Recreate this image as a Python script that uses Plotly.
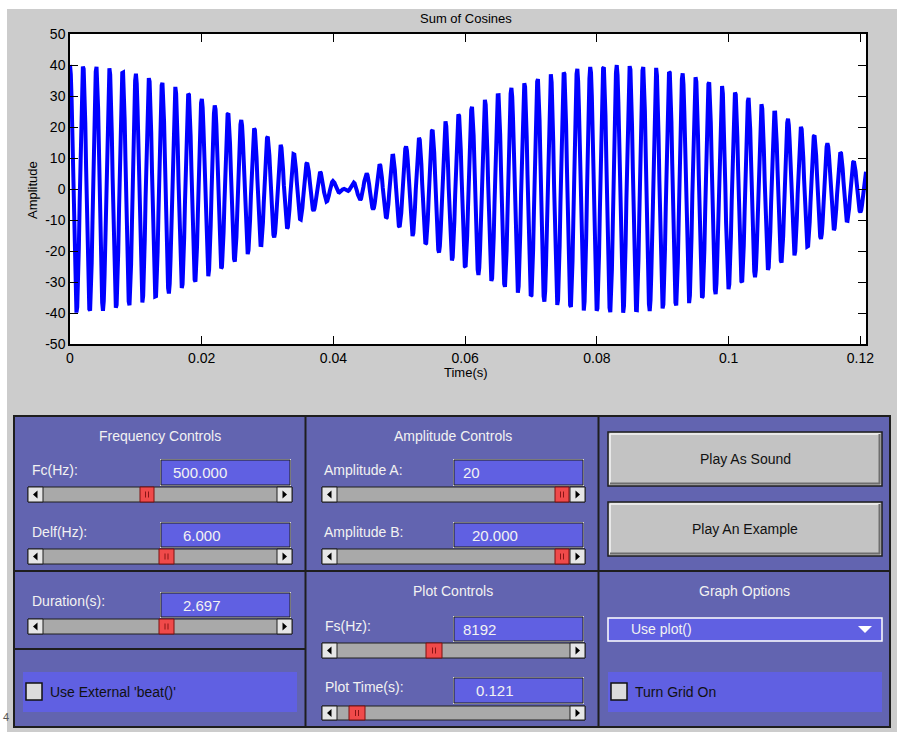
import numpy as np
import plotly.graph_objects as go

# ---- signal parameters (as entered in the control panel) ----
FC_HZ = 500.0        # carrier frequency
DELF_HZ = 6.0        # frequency offset
AMP_A = 20           # amplitude of first cosine
AMP_B = 20.0         # amplitude of second cosine
DURATION_S = 2.697   # sound duration
FS_HZ = 8192         # sampling rate
PLOT_TIME_S = 0.121  # span shown in the plot

# axis tick values / labels
Y_TICKS = [-50, -40, -30, -20, -10, 0, 10, 20, 30, 40, 50]
Y_TICK_TEXT = ["-50", "-40", "-30", "-20", "-10", "0", "10", "20", "30", "40", "50"]
X_TICKS = [0, 0.02, 0.04, 0.06, 0.08, 0.1, 0.12]
X_TICK_TEXT = ["0", "0.02", "0.04", "0.06", "0.08", "0.1", "0.12"]

# sampled sum of two cosines
n_samples = int(PLOT_TIME_S * FS_HZ)
t = np.arange(n_samples) / FS_HZ
signal = (AMP_A * np.cos(2 * np.pi * (FC_HZ - DELF_HZ) * t)
          + AMP_B * np.cos(2 * np.pi * (FC_HZ + DELF_HZ) * t))

W, H = 897, 732


def px(x):
    return x / W


def py(y):
    return 1 - y / H


shapes = []
annotations = []

PANEL = "#6264b0"
BOX = "#6060e2"
DARK = "#1e1e1e"
LIGHT_TXT = "#f2f2f2"
UI_FONT = "Liberation Sans"


def rect(x0, y0, x1, y1, fill, line=None, width=1):
    shapes.append(dict(type="rect", xref="paper", yref="paper",
                       x0=px(x0), x1=px(x1), y0=py(y1), y1=py(y0),
                       fillcolor=fill,
                       line=dict(color=line or fill, width=width if line else 0)))


def hline(x0, x1, y, color=DARK, width=2):
    shapes.append(dict(type="line", xref="paper", yref="paper",
                       x0=px(x0), x1=px(x1), y0=py(y), y1=py(y),
                       line=dict(color=color, width=width)))


def vline(x, y0, y1, color=DARK, width=2):
    shapes.append(dict(type="line", xref="paper", yref="paper",
                       x0=px(x), x1=px(x), y0=py(y0), y1=py(y1),
                       line=dict(color=color, width=width)))


def tri(points, color):
    path = "M " + " L ".join(f"{px(a):.5f},{py(b):.5f}" for a, b in points) + " Z"
    shapes.append(dict(type="path", xref="paper", yref="paper", path=path,
                       fillcolor=color, line=dict(color=color, width=0)))


def text(x, y, s, size=14, color=LIGHT_TXT, xanchor="left", family=UI_FONT):
    annotations.append(dict(x=px(x), y=py(y), xref="paper", yref="paper",
                            text=s, showarrow=False, xanchor=xanchor,
                            yanchor="middle",
                            font=dict(family=family, size=size, color=color)))


def edit_box(x0, y0, x1, y1, value, tx):
    rect(x0 - 1, y0 - 1, x1 + 1, y1 + 1, "#d6d6d6")
    rect(x0, y0, x1, y1, BOX, line=DARK, width=1)
    text(tx, (y0 + y1) / 2, value, size=15)


def slider(x0, x1, y0, y1, th0, th1):
    rect(x0, y0, x1, y1, "#a9a9a9", line=DARK, width=1)
    bw = 15
    rect(x0, y0, x0 + bw, y1, "#e6e6e6", line=DARK, width=1)
    rect(x1 - bw, y0, x1, y1, "#e6e6e6", line=DARK, width=1)
    cy = (y0 + y1) / 2
    cxl = x0 + bw / 2
    cxr = x1 - bw / 2
    tri([(cxl - 2.5, cy), (cxl + 2, cy - 4), (cxl + 2, cy + 4)], "#000000")
    tri([(cxr + 2.5, cy), (cxr - 2, cy - 4), (cxr - 2, cy + 4)], "#000000")
    rect(th0, y0, th1, y1, "#f04a4a", line="#7a1010", width=1)
    mx = (th0 + th1) / 2
    vline(mx - 1.5, cy - 3, cy + 3, color="#8a1515", width=1)
    vline(mx + 1.5, cy - 3, cy + 3, color="#8a1515", width=1)


def button(x0, y0, x1, y1, label):
    rect(x0, y0, x1, y1, "#c3c3c3", line=DARK, width=1.5)
    hline(x0 + 2, x1 - 2, y0 + 2, color="#f4f4f4", width=1.5)
    vline(x0 + 2, y0 + 2, y1 - 2, color="#f4f4f4", width=1.5)
    hline(x0 + 2, x1 - 2, y1 - 2.5, color="#6e6e6e", width=2)
    vline(x1 - 2.5, y0 + 2, y1 - 2, color="#6e6e6e", width=2)
    text((x0 + x1) / 2, (y0 + y1) / 2, label, size=14, color="#111111",
         xanchor="center")


def checkbox(x0, y0, x1, y1, cb_x, label):
    rect(x0, y0, x1, y1, BOX)
    rect(cb_x, 683, cb_x + 16, 700, "#dcdcdc", line="#111111", width=1.5)
    text(cb_x + 22, 692, label, size=14, color="#111111")


# window background strips
rect(0, 0, W, 9, "#ffffff")
rect(0, 0, 7, H, "#ffffff")
text(1, 717, "4", size=11, color="#555555")

# ---- control panels ----
rect(14, 416, 890, 727, PANEL, line=DARK, width=2)
vline(305.5, 416, 727)
vline(598.5, 416, 727)
hline(14, 890, 571)
hline(14, 305.5, 649)

# Frequency Controls
text(160, 436, "Frequency Controls", xanchor="center")
text(30, 470, "Fc(Hz):")
edit_box(161, 460, 290, 485, f"{FC_HZ:.3f}", 171)
slider(28, 292, 487, 502, 140, 154)
text(30, 532, "Delf(Hz):")
edit_box(161, 523, 290, 547, f"{DELF_HZ:.3f}", 181)
slider(28, 292, 549, 564, 159, 174)

# Amplitude Controls
text(453, 436, "Amplitude Controls", xanchor="center")
text(322, 470, "Amplitude A:")
edit_box(454, 460, 583, 485, f"{AMP_A}", 461)
slider(322, 585, 487, 502, 555, 569)
text(322, 532, "Amplitude B:")
edit_box(454, 523, 583, 547, f"{AMP_B:.3f}", 470)
slider(322, 585, 549, 564, 555, 569)

# Buttons
button(608, 432, 882, 486, "Play As Sound")
button(608, 502, 882, 556, "Play An Example")

# Duration
text(30, 601, "Duration(s):")
edit_box(161, 593, 290, 617, f"{DURATION_S:.3f}", 181)
slider(28, 292, 619, 634, 159, 174)

# External beat checkbox
checkbox(23, 672, 297, 712, 26, "Use External 'beat()'")

# Plot Controls
text(453, 591, "Plot Controls", xanchor="center")
text(323, 626, "Fs(Hz):")
edit_box(454, 617, 583, 641, f"{FS_HZ}", 461)
slider(322, 585, 643, 658, 426, 442)
text(323, 687, "Plot Time(s):")
edit_box(454, 678, 583, 703, f"{PLOT_TIME_S:.3f}", 474)
slider(322, 585, 706, 720, 349, 365)

# Graph Options
text(744, 591, "Graph Options", xanchor="center")
rect(608, 618, 882, 641, BOX, line="#ffffff", width=1.5)
text(629, 629, "Use plot()", size=14)
tri([(858, 626), (872, 626), (865, 633)], "#ffffff")
checkbox(608, 672, 882, 712, 611, "Turn Grid On")

# ---- waveform ----
fig = go.Figure()
fig.add_trace(go.Scatter(x=t, y=signal, mode="lines",
                         line=dict(color="#0000ff", width=4),
                         hoverinfo="skip", showlegend=False))

AX_FONT = dict(family="Liberation Sans", size=14, color="#000000")
fig.update_layout(
    width=W, height=H,
    margin=dict(l=0, r=0, t=0, b=0, autoexpand=False),
    paper_bgcolor="#cccccc",
    plot_bgcolor="#ffffff",
    shapes=shapes,
    annotations=annotations + [
        dict(x=px(466), y=py(19), xref="paper", yref="paper",
             text="Sum of Cosines", showarrow=False, xanchor="center",
             yanchor="middle", font=dict(family="Liberation Sans", size=13,
                                         color="#000000")),
        dict(x=px(466), y=py(373), xref="paper", yref="paper",
             text="Time(s)", showarrow=False, xanchor="center",
             yanchor="middle", font=dict(family="Liberation Sans", size=13,
                                         color="#000000")),
        dict(x=px(33), y=py(190), xref="paper", yref="paper",
             text="Amplitude", showarrow=False, textangle=-90,
             xanchor="center", yanchor="middle",
             font=dict(family="Liberation Sans", size=13, color="#000000")),
    ],
    xaxis=dict(domain=[px(70), px(866)], range=[0, t[-1]],
               tickvals=X_TICKS, ticktext=X_TICK_TEXT,
               ticks="inside", ticklen=8, tickcolor="#000000",
               showline=True, linecolor="#000000", linewidth=1.5,
               mirror="ticks", showgrid=False, zeroline=False,
               tickfont=AX_FONT, fixedrange=True),
    yaxis=dict(domain=[py(344), py(34)], range=[-50, 50],
               tickvals=Y_TICKS, ticktext=Y_TICK_TEXT,
               ticks="inside", ticklen=8, tickcolor="#000000",
               showline=True, linecolor="#000000", linewidth=1.5,
               mirror="ticks", showgrid=False, zeroline=False,
               tickfont=AX_FONT, fixedrange=True),
)

fig.write_html("out.html")
